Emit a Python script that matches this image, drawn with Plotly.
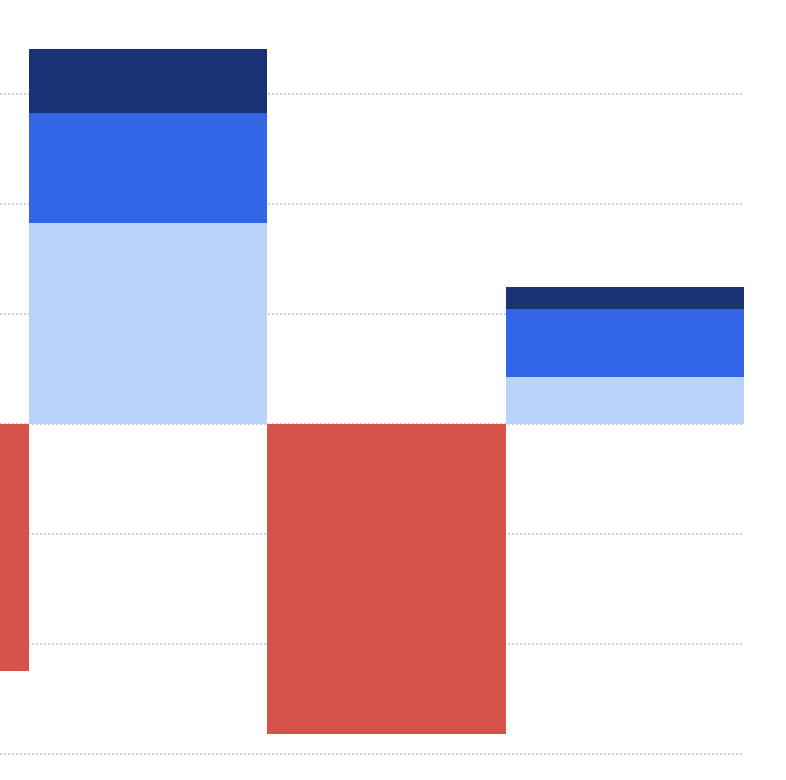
import plotly.graph_objects as go

# Data
positions = [0, 1, 2, 3]
categories = ["A", "B", "C", "D"]
light_vals = [0, 18.3, 0, 4.3]
blue_vals = [0, 10.0, 0, 6.2]
navy_vals = [0, 5.8, 0, 2.0]
red_vals = [-22.4, 0, -28.1, 0]

fig = go.Figure()
fig.add_trace(go.Bar(x=positions, y=light_vals, marker_color="#bad3fa", width=1, marker_line_width=0, name="Light"))
fig.add_trace(go.Bar(x=positions, y=blue_vals, marker_color="#3366e6", width=1, marker_line_width=0, name="Blue"))
fig.add_trace(go.Bar(x=positions, y=navy_vals, marker_color="#1a3276", width=1, marker_line_width=0, name="Navy"))
fig.add_trace(go.Bar(x=positions, y=red_vals, marker_color="#d6534c", width=1, marker_line_width=0, name="Red"))

fig.update_layout(
    width=786, height=780,
    margin=dict(l=0, r=42, t=0, b=0),
    barmode="relative", bargap=0,
    showlegend=False,
    plot_bgcolor="white", paper_bgcolor="white",
)
fig.update_xaxes(range=[0.3805, 3.5], showgrid=False, showticklabels=False, zeroline=False, showline=False, ticks="")
fig.update_yaxes(range=[-32.32, 38.59], dtick=10, tick0=0, showgrid=True, gridcolor="#cdd2d8",
                 gridwidth=2, griddash="2px,2px", zeroline=False, showticklabels=False, ticks="", showline=False)

fig.write_html("out.html", config={"displayModeBar": False},
               post_script="document.body.style.margin='0';")
